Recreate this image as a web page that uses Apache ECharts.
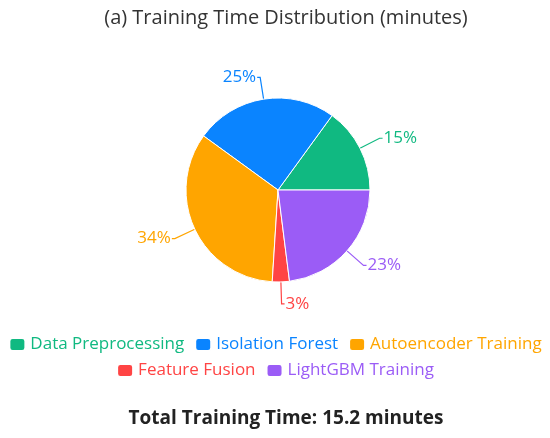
<!DOCTYPE html>
<html>
<head>
<meta charset="utf-8">
<script src="https://cdn.jsdelivr.net/npm/echarts@6/dist/echarts.min.js"></script>
<style>
  html, body { margin: 0; padding: 0; background: #fff; }
  #chart { width: 550px; height: 438px; }
</style>
</head>
<body>
<div id="chart"></div>
<script>
const categories = ["Data Preprocessing", "Isolation Forest", "Autoencoder Training", "Feature Fusion", "LightGBM Training"];
const values = [15, 25, 34, 3, 23];
const colors = ["#10b981", "#0a84ff", "#ffa500", "#ff4444", "#9b5cf6"];
const totalText = "Total Training Time: 15.2 minutes";

const chart = echarts.init(document.getElementById("chart"));

const legendBase = {
  left: "center",
  itemWidth: 16,
  itemHeight: 13,
  itemGap: 10,
  icon: "roundRect",
  textStyle: { fontSize: 17, fontFamily: "Open Sans", color: "inherit" },
};

const option = {
  backgroundColor: "#ffffff",
  title: [
    {
      text: "(a) Training Time Distribution (minutes)",
      left: 281,
      textAlign: "center",
      top: 3,
      textStyle: { color: "#333", fontSize: 20, fontWeight: "normal", fontFamily: "Open Sans" },
    },
    {
      text: totalText,
      left: 281,
      textAlign: "center",
      top: 404,
      textStyle: { color: "#222", fontSize: 19, fontWeight: "bold", fontFamily: "Open Sans" },
    },
  ],
  legend: [
    Object.assign({}, legendBase, { data: categories.slice(0, 3), top: 331 }),
    Object.assign({}, legendBase, { data: categories.slice(3), top: 357 }),
  ],
  series: [
    {
      type: "pie",
      center: [278, 190],
      radius: 92,
      startAngle: 0,
      clockwise: false,
      color: colors,
      itemStyle: { borderColor: "#fff", borderWidth: 1 },
      label: {
        formatter: "{d}%",
        fontSize: 17,
        fontFamily: "Open Sans",
        distanceToLabelLine: 1,
      },
      labelLine: { length: 22, length2: 3, lineStyle: { width: 1.2 } },
      data: categories.map((name, i) => ({
        name,
        value: values[i],
        label: { color: colors[i] },
        labelLine: { lineStyle: { color: colors[i] } },
      })),
    },
  ],
};

chart.setOption(option);
</script>
</body>
</html>
